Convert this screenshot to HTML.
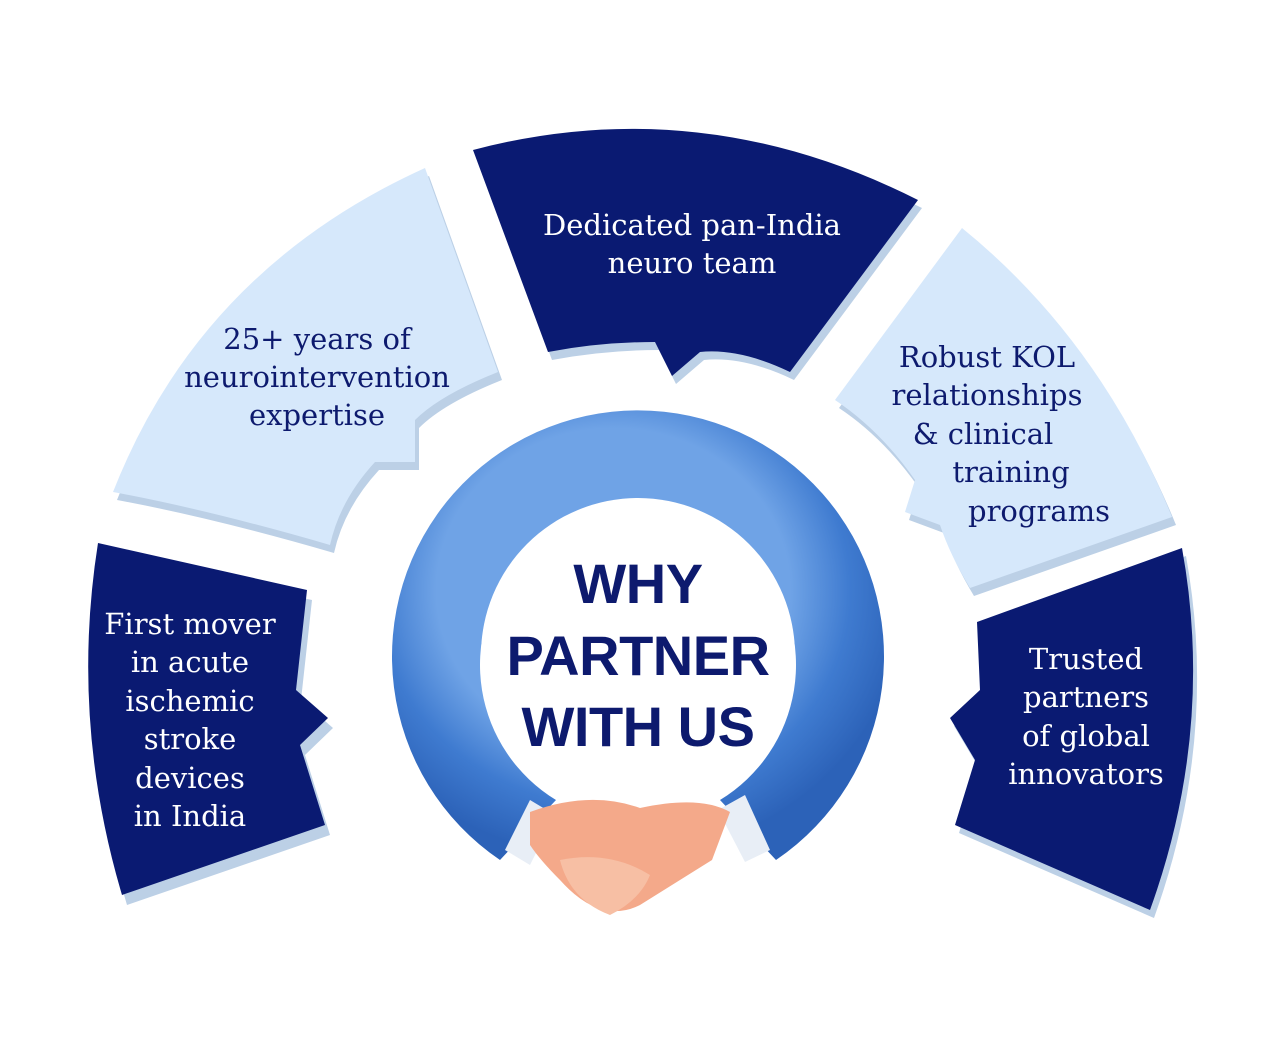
<!DOCTYPE html>
<html><head><meta charset="utf-8"><style>
html,body{margin:0;padding:0;background:#fff}
svg{display:block}
.s{font-family:"DejaVu Serif","Liberation Serif",serif;font-size:29px;text-anchor:middle}
.w{fill:#fff}.n{fill:#0d1a6e}
.c{font-family:"Liberation Sans",sans-serif;font-weight:bold;font-size:56px;fill:#0d1a6e;text-anchor:middle;letter-spacing:-0.5px}
</style></head><body>
<svg width="1280" height="1045" viewBox="0 0 1280 1045" xmlns="http://www.w3.org/2000/svg">
<defs>
<radialGradient id="ring" cx="0.45" cy="0.4" r="0.6">
<stop offset="0.6" stop-color="#6fa3e6"/><stop offset="0.8" stop-color="#3f7bd0"/><stop offset="1" stop-color="#2c62b8"/>
</radialGradient>
</defs>
<g fill="#bcd0e6">
<path transform="translate(5,10)" d="M98,543 L307,590 L296,690 L328,718 L300,745 L325,825 L122,895 Q70,720 98,543 Z"/>
<path transform="translate(4,8)" d="M113,492 Q200,270 425,168 L498,372 Q440,395 415,420 L415,462 L375,462 Q340,500 330,545 Q210,510 113,492 Z"/>
<path transform="translate(4,8)" d="M473,150 Q700,90 918,200 L790,372 Q740,348 700,352 L672,376 L655,342 Q600,342 548,352 Z"/>
<path transform="translate(4,8)" d="M962,228 Q1100,340 1172,517 L970,588 Q950,555 940,525 L905,512 L915,480 Q880,430 835,400 Z"/>
<path transform="translate(4,8)" d="M977,622 L1182,548 Q1215,730 1150,910 L955,825 L975,760 L950,718 L980,690 Z"/>
</g>
<path fill="#0a1a72" d="M98,543 L307,590 L296,690 L328,718 L300,745 L325,825 L122,895 Q70,720 98,543 Z"/>
<path fill="#d6e8fb" d="M113,492 Q200,270 425,168 L498,372 Q440,395 415,420 L415,462 L375,462 Q340,500 330,545 Q210,510 113,492 Z"/>
<path fill="#0a1a72" d="M473,150 Q700,90 918,200 L790,372 Q740,348 700,352 L672,376 L655,342 Q600,342 548,352 Z"/>
<path fill="#d6e8fb" d="M962,228 Q1100,340 1172,517 L970,588 Q950,555 940,525 L905,512 L915,480 Q880,430 835,400 Z"/>
<path fill="#0a1a72" d="M977,622 L1182,548 Q1215,730 1150,910 L955,825 L975,760 L950,718 L980,690 Z"/>
<path fill="url(#ring)" fill-rule="evenodd" d="M500,860 A246,246 0 1 1 776,860 L720,800 A158,158 0 1 0 556,800 Z"/>
<circle cx="638" cy="655" r="157" fill="#fff"/>
<g>
<path d="M505,850 L530,800 L555,815 L530,865 Z" fill="#e8eef6"/>
<path d="M770,850 L745,795 L718,810 L745,862 Z" fill="#e8eef6"/>
<path d="M530,812 Q590,790 640,808 Q700,795 730,812 L712,860 Q680,880 640,905 Q600,925 560,880 Q540,860 530,845 Z" fill="#f4a98a"/>
<path d="M560,860 Q610,850 650,875 Q640,900 610,915 Q570,900 560,860 Z" fill="#f7bfa4"/>
</g>
<text class="s w" x="190" y="634">First mover</text>
<text class="s w" x="190" y="672">in acute</text>
<text class="s w" x="190" y="711">ischemic</text>
<text class="s w" x="190" y="749">stroke</text>
<text class="s w" x="190" y="788">devices</text>
<text class="s w" x="190" y="826">in India</text>
<text class="s n" x="317" y="349">25+ years of</text>
<text class="s n" x="317" y="387">neurointervention</text>
<text class="s n" x="317" y="425">expertise</text>
<text class="s w" x="692" y="235">Dedicated pan-India</text>
<text class="s w" x="692" y="273">neuro team</text>
<text class="s n" x="987" y="367">Robust KOL</text>
<text class="s n" x="987" y="405">relationships</text>
<text class="s n" x="983" y="444">&amp; clinical</text>
<text class="s n" x="1011" y="482">training</text>
<text class="s n" x="1039" y="521">programs</text>
<text class="s w" x="1086" y="669">Trusted</text>
<text class="s w" x="1086" y="707">partners</text>
<text class="s w" x="1086" y="746">of global</text>
<text class="s w" x="1086" y="784">innovators</text>
<text class="c" x="638" y="603">WHY</text>
<text class="c" x="638" y="675">PARTNER</text>
<text class="c" x="638" y="746">WITH US</text>
</svg>
</body></html>
